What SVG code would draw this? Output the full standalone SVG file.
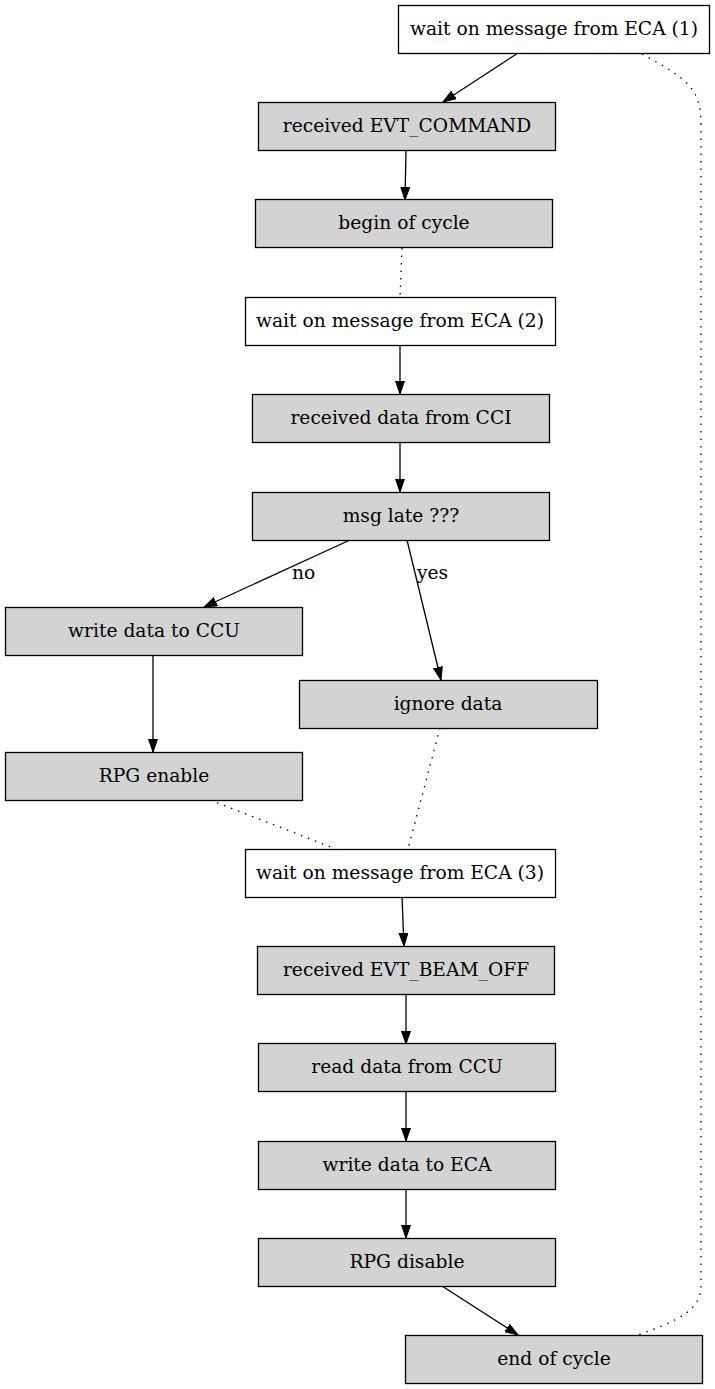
<svg xmlns="http://www.w3.org/2000/svg" width="715" height="1389" viewBox="0 0 715 1389">
<style>
.n rect{stroke:#000;stroke-width:1.3}
.w rect{fill:#fff}
.g rect{fill:#d3d3d3}
text{font-family:"DejaVu Serif","Liberation Serif",serif;font-size:18.67px;fill:#000;text-anchor:middle}
.e path{fill:none;stroke:#000;stroke-width:1.3}
.e .d{stroke-dasharray:1.5 6}
.lbl{text-anchor:start}
</style>
<defs>
<marker id="ah" markerWidth="14" markerHeight="10" refX="13" refY="5" orient="auto" markerUnits="userSpaceOnUse">
<path d="M0,0.5 L13,5 L0,9.5 Z" fill="#000" stroke="#000" stroke-width="1"/>
</marker>
</defs>
<g id="edges" class="e">
<path d="M518,53 L443,102" marker-end="url(#ah)"/>
<path d="M406,151 L405,200" marker-end="url(#ah)"/>
<path class="d" d="M402,248 L400,297"/>
<path d="M400,345 L400,394" marker-end="url(#ah)"/>
<path d="M400,442 L400,492" marker-end="url(#ah)"/>
<path d="M350,540 L204,607" marker-end="url(#ah)"/>
<path d="M407,540 L441,680" marker-end="url(#ah)"/>
<path d="M153,656 L153,752" marker-end="url(#ah)"/>
<path class="d" d="M210,800 L336,849"/>
<path class="d" d="M440,728 L408,849"/>
<path d="M402,897 L404,946" marker-end="url(#ah)"/>
<path d="M406,994 L406,1044" marker-end="url(#ah)"/>
<path d="M406,1091 L406,1141" marker-end="url(#ah)"/>
<path d="M406,1189 L406,1238" marker-end="url(#ah)"/>
<path d="M442,1286 L518,1335" marker-end="url(#ah)"/>
<path class="d" d="M642,54 C690,80 701,90 701,125 L701,1285 C701,1310 680,1320 638,1335"/>
<text class="lbl" x="292" y="579">no</text>
<text class="lbl" x="417" y="579">yes</text>
</g>
<g id="n1" class="n w"><rect x="398.5" y="5.5" width="311" height="48"/><text x="554" y="35">wait on message from ECA (1)</text></g>
<g id="n2" class="n g"><rect x="258.5" y="102.5" width="297" height="48"/><text x="407" y="132">received EVT_COMMAND</text></g>
<g id="n3" class="n g"><rect x="255.5" y="199.5" width="297" height="48"/><text x="404" y="229">begin of cycle</text></g>
<g id="n4" class="n w"><rect x="245.5" y="297.5" width="310" height="48"/><text x="400" y="327">wait on message from ECA (2)</text></g>
<g id="n5" class="n g"><rect x="252.5" y="394.5" width="297" height="48"/><text x="401" y="424">received data from CCI</text></g>
<g id="n6" class="n g"><rect x="252.5" y="492.5" width="297" height="48"/><text x="401" y="522">msg late ???</text></g>
<g id="n7" class="n g"><rect x="5.5" y="607.5" width="297" height="48"/><text x="154" y="637">write data to CCU</text></g>
<g id="n8" class="n g"><rect x="299.5" y="680.5" width="298" height="48"/><text x="448" y="710">ignore data</text></g>
<g id="n9" class="n g"><rect x="5.5" y="752.5" width="297" height="48"/><text x="154" y="782">RPG enable</text></g>
<g id="n10" class="n w"><rect x="245.5" y="849.5" width="310" height="48"/><text x="400" y="879">wait on message from ECA (3)</text></g>
<g id="n11" class="n g"><rect x="257.5" y="946.5" width="297" height="48"/><text x="406" y="976">received EVT_BEAM_OFF</text></g>
<g id="n12" class="n g"><rect x="258.5" y="1043.5" width="297" height="48"/><text x="407" y="1073">read data from CCU</text></g>
<g id="n13" class="n g"><rect x="258.5" y="1141.5" width="297" height="48"/><text x="407" y="1171">write data to ECA</text></g>
<g id="n14" class="n g"><rect x="258.5" y="1238.5" width="297" height="48"/><text x="407" y="1268">RPG disable</text></g>
<g id="n15" class="n g"><rect x="405.5" y="1335.5" width="297" height="48"/><text x="554" y="1365">end of cycle</text></g>
</svg>
